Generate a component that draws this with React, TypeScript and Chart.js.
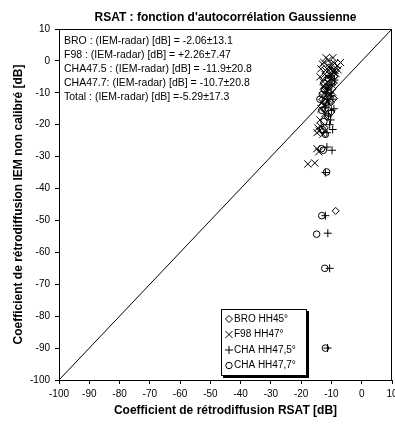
import React, { useEffect, useRef } from "react";
import { Chart, registerables } from "chart.js";

Chart.register(...registerables);

// Backscatter pairs: x = RSAT coefficient [dB], y = uncalibrated IEM coefficient [dB]
const broX = [
  -10, -11.5, -9.5, -12.5, -11, -10.2, -12, -11.3, -13, -8.6,
  -10.8, -9, -11.8, -10.5, -12.3, -10, -12.2, -9.2,
];
const broY = [
  -3, -5.5, -7, -9, -11, -13, -15, -17, -22, -47,
  -2, -4.8, -8, -10, -12.5, -16, -21, -11.8,
];

const f98X = [
  -12.5, -11, -10, -9, -8, -7, -13.5, -12, -10.5, -9.5, -8.5, -11.5, -10, -12.8,
  -9, -11, -12, -10.5, -13, -11.5, -12.5, -13.5, -14.5, -14, -14.8, -17.8, -15.5, -13.8,
  -11.8, -10.8, -9.3, -12.2, -10.2, -8.8, -11.2, -9.8, -12.6, -10.8, -11.8, -9.6,
  -13.2, -11, -12.2, -13.6, -14.8, -12.8, -14.2, -13.8, -7.8, -9.5, -13,
];
const f98Y = [
  -0.5, 0.3, -1, -0.8, -1.5, -0.5, -2.5, -3, -2.2, -3.5, -4, -5, -5.5, -6.5,
  -6, -8, -9.5, -10.5, -11, -12.5, -14, -15, -21, -22, -27.5, -32.3, -32, -18.5,
  1, -1.8, -2.8, -4.2, -4.5, -3, -6.8, -7.5, -7.8, -9, -10.8, -9.8,
  -13, -12, -16.5, -20.5, -22.5, -23, -28.5, -5, -2.8, 1, -1,
];

const cha475X = [
  -10.5, -9.8, -11.5, -9.5, -10.8, -10, -11, -10.3, -9.6, -11.5, -9.8, -12, -12, -11.2, -10.6, -11.3,
  -9, -11.2, -10.2, -12, -9.2, -10.6, -11.5,
];
const cha475Y = [
  -4.5, -7.5, -10, -12, -13.5, -15.5, -17, -18.5, -21.5, -22.5, -28, -35, -48.5, -54, -65, -90,
  -6, -8.5, -11, -14.5, -15, -20, -27,
];

const cha477X = [
  -12.5, -13, -11.8, -13.2, -12.5, -13, -13.3, -11.6, -13.2, -14.9, -12.2, -12,
  -11, -12.2, -13.8, -11.2, -12, -12.7,
];
const cha477Y = [
  -7, -10.5, -13, -15.5, -19, -21.5, -27.5, -34.8, -48.5, -54.3, -65, -90,
  -5.5, -9, -12, -17.5, -23, -28,
];

const axisMin = -100;
const axisMax = 10;
const tickStep = 10;

const seriesLabels = ["BRO HH45°", "F98 HH47°", "CHA HH47,5°", "CHA HH47,7°"];
const seriesStyles = ["rectRot", "crossRot", "cross", "circle"];

const statLines = [
  "BRO : (IEM-radar) [dB] = -2.06±13.1",
  "F98 : (IEM-radar) [dB] = +2.26±7.47",
  "CHA47.5 : (IEM-radar) [dB] = -11.9±20.8",
  "CHA47.7: (IEM-radar) [dB] = -10.7±20.8",
  "Total : (IEM-radar) [dB] =-5.29±17.3",
];

const titleText = "RSAT : fonction d'autocorrélation Gaussienne";
const xTitle = "Coefficient de rétrodiffusion RSAT [dB]";
const yTitle = "Coefficient de rétrodiffusion IEM non calibré [dB]";

const FONT = "'Liberation Sans', Arial, Helvetica, sans-serif";

const toPoints = (xs: number[], ys: number[]) => xs.map((x, i) => ({ x, y: ys[i] }));

function drawMarker(ctx: CanvasRenderingContext2D, style: string, x: number, y: number) {
  ctx.beginPath();
  if (style === "rectRot") {
    const r = 3.5;
    ctx.moveTo(x, y - r);
    ctx.lineTo(x + r, y);
    ctx.lineTo(x, y + r);
    ctx.lineTo(x - r, y);
    ctx.closePath();
  } else if (style === "crossRot") {
    const r = 3.5;
    ctx.moveTo(x - r, y - r);
    ctx.lineTo(x + r, y + r);
    ctx.moveTo(x + r, y - r);
    ctx.lineTo(x - r, y + r);
  } else if (style === "cross") {
    const r = 4;
    ctx.moveTo(x - r, y);
    ctx.lineTo(x + r, y);
    ctx.moveTo(x, y - r);
    ctx.lineTo(x, y + r);
  } else {
    ctx.arc(x, y, 3.2, 0, Math.PI * 2);
  }
  ctx.stroke();
}

const frameAndNotes = {
  id: "frameAndNotes",
  afterDatasetsDraw(chart: any) {
    const { ctx, chartArea: a } = chart;
    ctx.save();
    // plot frame
    ctx.strokeStyle = "#000";
    ctx.lineWidth = 1;
    ctx.strokeRect(a.left + 0.5, a.top + 0.5, a.right - a.left - 1, a.bottom - a.top);

    // statistics block
    ctx.fillStyle = "#000";
    ctx.font = `10.5px ${FONT}`;
    ctx.textBaseline = "middle";
    ctx.textAlign = "left";
    statLines.forEach((t, i) => ctx.fillText(t, a.left + 5, a.top + 12 + i * 14));

    // legend box with drop shadow
    const bx = a.left + 162;
    const by = a.bottom - 71;
    const bw = 86;
    const bh = 67;
    ctx.fillStyle = "#000";
    ctx.fillRect(bx + 2, by + 2, bw, bh);
    ctx.fillStyle = "#fff";
    ctx.fillRect(bx, by, bw, bh);
    ctx.strokeStyle = "#000";
    ctx.strokeRect(bx + 0.5, by + 0.5, bw - 1, bh - 1);
    ctx.fillStyle = "#000";
    ctx.font = `10px ${FONT}`;
    seriesLabels.forEach((label, i) => {
      const ry = by + 10 + i * 15.5;
      drawMarker(ctx, seriesStyles[i], bx + 8, ry);
      ctx.fillText(label, bx + 13, ry);
    });
    ctx.restore();
  },
};

export default function App() {
  const canvasRef = useRef<HTMLCanvasElement | null>(null);

  useEffect(() => {
    if (!canvasRef.current) return;
    const pointBase = {
      type: "scatter" as const,
      borderColor: "#000",
      backgroundColor: "rgba(0,0,0,0)",
      borderWidth: 1,
      pointBorderWidth: 1,
    };
    const chart = new Chart(canvasRef.current, {
      type: "scatter",
      data: {
        datasets: [
          {
            ...pointBase,
            label: "1:1",
            data: [
              { x: axisMin, y: axisMin },
              { x: axisMax, y: axisMax },
            ],
            showLine: true,
            pointRadius: 0,
            borderWidth: 1,
          } as any,
          { ...pointBase, label: seriesLabels[0], data: toPoints(broX, broY), pointStyle: "rectRot", pointRadius: 3.5 },
          { ...pointBase, label: seriesLabels[1], data: toPoints(f98X, f98Y), pointStyle: "crossRot", pointRadius: 5 },
          { ...pointBase, label: seriesLabels[2], data: toPoints(cha475X, cha475Y), pointStyle: "cross", pointRadius: 4 },
          { ...pointBase, label: seriesLabels[3], data: toPoints(cha477X, cha477Y), pointStyle: "circle", pointRadius: 3.3 },
        ],
      },
      options: {
        responsive: false,
        animation: false,
        devicePixelRatio: 1,
        layout: { padding: { left: 0, right: 13, top: 0, bottom: 0 } },
        plugins: {
          legend: { display: false },
          tooltip: { enabled: false },
          title: {
            display: true,
            text: titleText,
            fullSize: false,
            color: "#000",
            font: { family: FONT, size: 12, weight: "bold", lineHeight: 1.2 },
            padding: { top: 10, bottom: 4.6 },
          },
        },
        scales: {
          x: {
            type: "linear",
            min: axisMin,
            max: axisMax,
            afterFit: (s: any) => {
              s.height = 46;
            },
            ticks: { stepSize: tickStep, color: "#000", font: { family: FONT, size: 10 }, padding: 4 },
            grid: { drawOnChartArea: false, drawTicks: true, tickLength: 4, color: "#000" },
            border: { color: "#000", width: 1 },
            title: {
              display: true,
              text: xTitle,
              color: "#000",
              font: { family: FONT, size: 12, weight: "bold", lineHeight: 1.2 },
              padding: { top: 0, bottom: 8 },
            },
          },
          y: {
            type: "linear",
            min: axisMin,
            max: axisMax,
            afterFit: (s: any) => {
              s.width = 59;
            },
            ticks: { stepSize: tickStep, color: "#000", font: { family: FONT, size: 10 }, padding: 5 },
            grid: { drawOnChartArea: false, drawTicks: true, tickLength: 4, color: "#000" },
            border: { color: "#000", width: 1 },
            title: {
              display: true,
              text: yTitle,
              color: "#000",
              font: { family: FONT, size: 12, weight: "bold", lineHeight: 1.2 },
              padding: { top: 11, bottom: 0 },
            },
          },
        },
      } as any,
      plugins: [frameAndNotes],
    });
    return () => chart.destroy();
  }, []);

  return (
    <div
      style={{
        position: "fixed",
        left: 0,
        top: 0,
        width: 395,
        height: 426,
        overflow: "hidden",
        background: "#fff",
      }}
    >
      <canvas ref={canvasRef} width={405} height={426} style={{ display: "block" }} />
    </div>
  );
}
